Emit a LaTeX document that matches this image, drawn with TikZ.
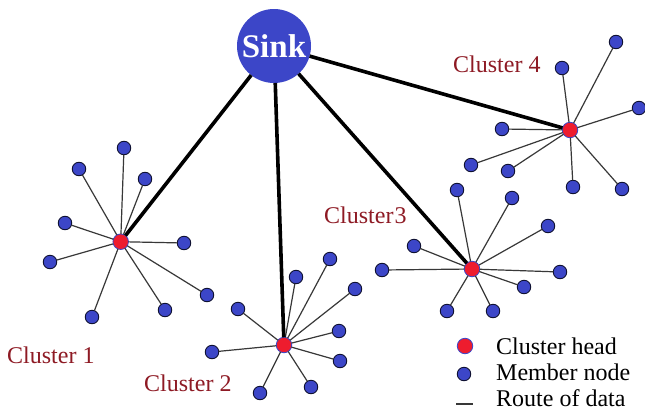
\documentclass[tikz,border=0pt]{standalone}
\usepackage{fontspec}
\setmainfont{Liberation Serif}
\definecolor{nodeblue}{HTML}{3C46C8}
\definecolor{headred}{HTML}{EE1C2E}
\definecolor{labelred}{HTML}{8E1A24}
\definecolor{edgegrey}{HTML}{383838}
\tikzset{
  member/.style={circle,fill=nodeblue,draw=black!75!nodeblue,line width=0.9pt,minimum size=13.5pt,inner sep=0pt,outer sep=0pt},
  head/.style={circle,fill=headred,draw=nodeblue,line width=0.8pt,minimum size=15.5pt,inner sep=0pt,outer sep=0pt},
  sinknode/.style={circle,fill=nodeblue,minimum size=74pt,inner sep=0pt,outer sep=0pt,text=white,font=\fontsize{33}{35}\selectfont\bfseries},
  thin link/.style={draw=edgegrey,line width=1.2pt},
  route/.style={draw=black,line width=3.6pt},
  clabel/.style={anchor=base west,inner sep=0pt,text=labelred,font=\fontsize{24}{26}\selectfont},
  legendtext/.style={anchor=base west,inner sep=0pt,text=black,font=\fontsize{24}{26}\selectfont},
}
\begin{document}
\begin{tikzpicture}[x=1pt,y=-1pt]
\useasboundingbox[fill=white] (0,0) rectangle (645,410);
\node[sinknode] (sink) at (274,46) {\raisebox{-2pt}{Sink}};
\node[head] (h1) at (120.7,241.7) {};
\node[head] (h2) at (284,345) {};
\node[head] (h3) at (472,269) {};
\node[head] (h4) at (570,130) {};
\foreach \n/\x/\y in {a/124/148,b/79/169,c/145/179,d/65/223,e/50/262,f/92/317,g/165/310,i/207/295,j/184/243}{
  \node[member] (m1\n) at (\x,\y) {};
  \draw[thin link] (h1) -- (m1\n);
}
\foreach \n/\x/\y in {a/296/277,b/330/259,c/355/289,d/339/331,e/340/361,f/311/387,g/260/393,i/212/352,j/238/309}{
  \node[member] (m2\n) at (\x,\y) {};
  \draw[thin link] (h2) -- (m2\n);
}
\foreach \n/\x/\y in {a/560/272,b/524/287,c/493/311,d/447/311,e/382/270,f/414/246,g/548/226,i/512/198,j/457/190}{
  \node[member] (m3\n) at (\x,\y) {};
  \draw[thin link] (h3) -- (m3\n);
}
\foreach \n/\x/\y in {a/616/42,b/562/68,c/639/108,d/502/129,e/471/165,f/508/171,g/573/187,i/622/189}{
  \node[member] (m4\n) at (\x,\y) {};
  \draw[thin link] (h4) -- (m4\n);
}
\draw[route] (sink) -- (h1);
\draw[route] (sink) -- (h2);
\draw[route] (sink) -- (h3);
\draw[route] (sink) -- (h4);
\node[clabel] (c1) at (7,363) {Cluster 1};
\node[clabel] (c2) at (144,391) {Cluster 2};
\node[clabel] (c3) at (324,223) {Cluster\kern1pt3};
\node[clabel] (c4) at (453,72) {Cluster 4};
\node[head] (lh) at (465,346) {};
\node[member] (lm) at (464,374) {};
\coordinate (la) at (456,404);
\coordinate (lb) at (473,404);
\draw[thin link] (la) -- (lb);
\node[legendtext] (t1) at (496,354) {Cluster head};
\node[legendtext] (t2) at (496,380) {Member node};
\node[legendtext] (t3) at (496,406) {Route of data};
\end{tikzpicture}
\end{document}
